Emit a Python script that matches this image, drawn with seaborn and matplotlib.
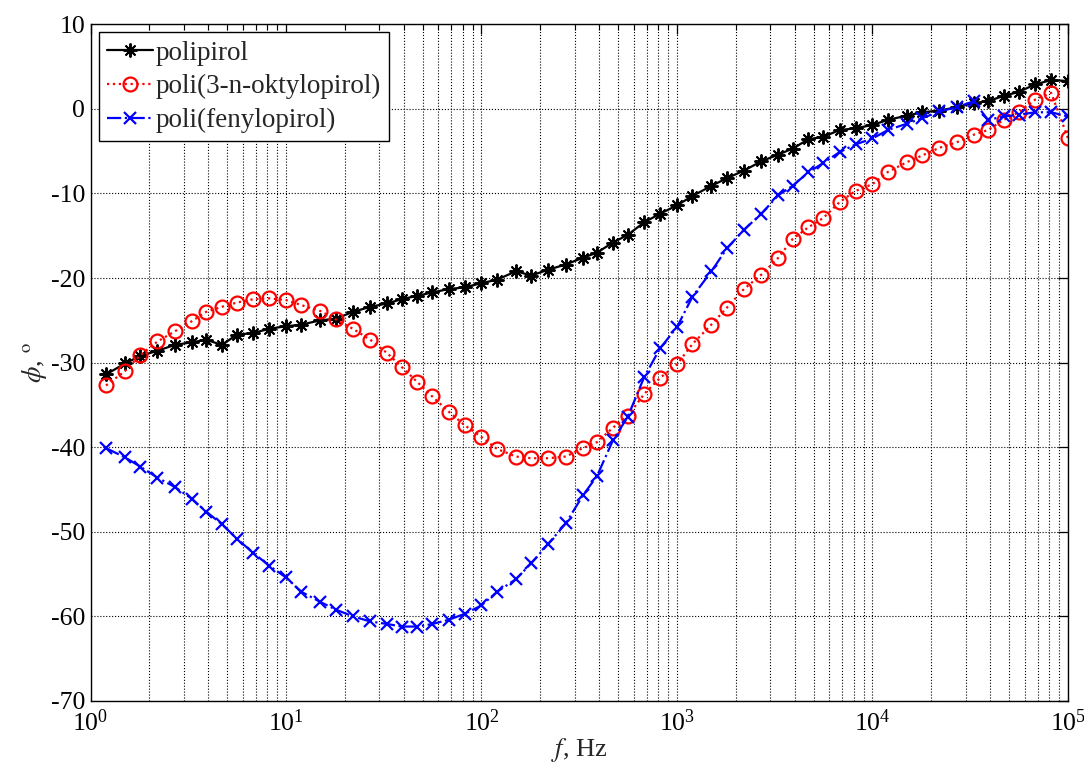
import matplotlib
matplotlib.use("Agg")
import matplotlib.pyplot as plt
import seaborn as sns
import pandas as pd
from matplotlib.ticker import LogLocator, NullFormatter, FixedLocator

# Measurement frequencies (E12 sweep), Hz
freq_hz = [1.2, 1.5, 1.8, 2.2, 2.7, 3.3, 3.9, 4.7, 5.6, 6.8, 8.2,
           10, 12, 15, 18, 22, 27, 33, 39, 47, 56, 68, 82,
           100, 120, 150, 180, 220, 270, 330, 390, 470, 560, 680, 820,
           1000, 1200, 1500, 1800, 2200, 2700, 3300, 3900, 4700, 5600, 6800, 8200,
           10000, 12000, 15000, 18000, 22000, 27000, 33000, 39000, 47000, 56000, 68000, 82000,
           100000]

# Phase angle, degrees
phase_polipirol = [-31.4, -30.1, -29.2, -28.6, -27.9, -27.6, -27.3, -27.9, -26.7, -26.5, -26.0,
                   -25.7, -25.5, -25.0, -24.8, -24.0, -23.4, -23.0, -22.5, -22.1, -21.7, -21.3, -21.1,
                   -20.6, -20.2, -19.2, -19.7, -19.0, -18.4, -17.6, -17.0, -15.8, -14.9, -13.4, -12.4,
                   -11.4, -10.3, -9.1, -8.2, -7.3, -6.2, -5.4, -4.7, -3.6, -3.3, -2.5, -2.3,
                   -1.9, -1.3, -0.8, -0.4, -0.2, 0.2, 0.7, 0.9, 1.55, 2.0, 2.9, 3.4,
                   3.3]
phase_oktylopirol = [-32.7, -31.0, -29.1, -27.5, -26.3, -25.1, -24.0, -23.4, -22.9, -22.5, -22.4,
                     -22.6, -23.2, -23.9, -24.9, -26.0, -27.3, -28.9, -30.5, -32.3, -34.0, -35.8, -37.4,
                     -38.8, -40.2, -41.1, -41.3, -41.3, -41.1, -40.1, -39.4, -37.7, -36.3, -33.7, -31.8,
                     -30.2, -27.8, -25.5, -23.5, -21.3, -19.6, -17.6, -15.4, -14.0, -12.9, -11.0, -9.7,
                     -8.9, -7.45, -6.3, -5.5, -4.6, -3.95, -3.05, -2.5, -1.3, -0.4, 1.1, 1.9,
                     -3.45]
phase_fenylopirol = [-40.1, -41.2, -42.3, -43.6, -44.7, -46.1, -47.6, -49.1, -50.8, -52.5, -54.0,
                     -55.4, -57.1, -58.3, -59.2, -60.0, -60.6, -60.9, -61.2, -61.2, -60.9, -60.4, -59.7,
                     -58.7, -57.1, -55.6, -53.7, -51.4, -49.0, -45.7, -43.4, -39.2, -36.4, -31.7, -28.3,
                     -25.8, -22.2, -19.2, -16.5, -14.3, -12.4, -10.2, -9.1, -7.5, -6.4, -5.1, -4.2,
                     -3.5, -2.5, -1.75, -1.1, -0.3, 0.2, 0.9, -1.3, -0.9, -0.7, -0.4, -0.4,
                     -0.9]

series_labels = ["polipirol", "poli(3-n-oktylopirol)", "poli(fenylopirol)"]
y_ticks = [-70, -60, -50, -40, -30, -20, -10, 0, 10]

sns.set_theme(style="white")
plt.rcParams["font.family"] = ["Liberation Serif", "DejaVu Serif"]
plt.rcParams["mathtext.fontset"] = "stix"
plt.rcParams["axes.unicode_minus"] = False

fig = plt.figure(figsize=(10.84, 7.71), dpi=100)
ax = fig.add_axes([0.0835, 0.0908, 0.9017, 0.8777])

df = pd.DataFrame({"f": freq_hz, "a": phase_polipirol,
                   "b": phase_oktylopirol, "c": phase_fenylopirol})

sns.lineplot(data=df, x="f", y="a", ax=ax, sort=False, errorbar=None,
             color="black", linestyle="-", linewidth=1.6,
             marker=(8, 2, 0), markersize=10, markeredgecolor="black",
             markeredgewidth=1.4, label=series_labels[0])
sns.lineplot(data=df, x="f", y="b", ax=ax, sort=False, errorbar=None,
             color="red", linestyle=":", linewidth=1.6,
             marker="o", markersize=10, markerfacecolor="none",
             markeredgecolor="red", markeredgewidth=1.6, label=series_labels[1])
sns.lineplot(data=df, x="f", y="c", ax=ax, sort=False, errorbar=None,
             color="blue", linestyle="-.", linewidth=1.6,
             marker="x", markersize=8, markeredgecolor="blue",
             markeredgewidth=1.6, label=series_labels[2])

ax.set_xscale("log")
ax.set_xlim(1, 1e5)
ax.set_ylim(-70, 10)
ax.yaxis.set_major_locator(FixedLocator(y_ticks))
ax.xaxis.set_major_locator(LogLocator(base=10, numticks=10))
ax.xaxis.set_minor_locator(LogLocator(base=10, subs=range(2, 10), numticks=20))
ax.xaxis.set_minor_formatter(NullFormatter())

ax.grid(True, which="major", axis="both", linestyle=":", color="black", linewidth=0.8)
ax.grid(True, which="minor", axis="x", linestyle=":", color="black", linewidth=0.8)

ax.tick_params(which="both", direction="in", top=True, right=True,
               colors="black", labelsize=18.5)
ax.tick_params(which="major", length=7, width=0.9, pad=4)
ax.tick_params(which="minor", length=4, width=0.8)
ax.tick_params(axis="x", which="major", pad=6)
for s in ax.spines.values():
    s.set_color("black")
    s.set_linewidth(1.0)

ax.set_xlabel("$f$, Hz", fontsize=19, labelpad=0)
ax.set_ylabel(r"$\phi$, $^{\mathrm{o}}$", fontsize=19, labelpad=1)

leg = ax.legend(loc="upper left", fontsize=19.5, frameon=True, fancybox=False,
                edgecolor="black", framealpha=1, handlelength=1.7,
                handletextpad=0.1, labelspacing=0.32, borderpad=0.3,
                borderaxespad=0.3)
leg.get_frame().set_linewidth(1.0)

fig.savefig("out.png", dpi=100, facecolor="white")
